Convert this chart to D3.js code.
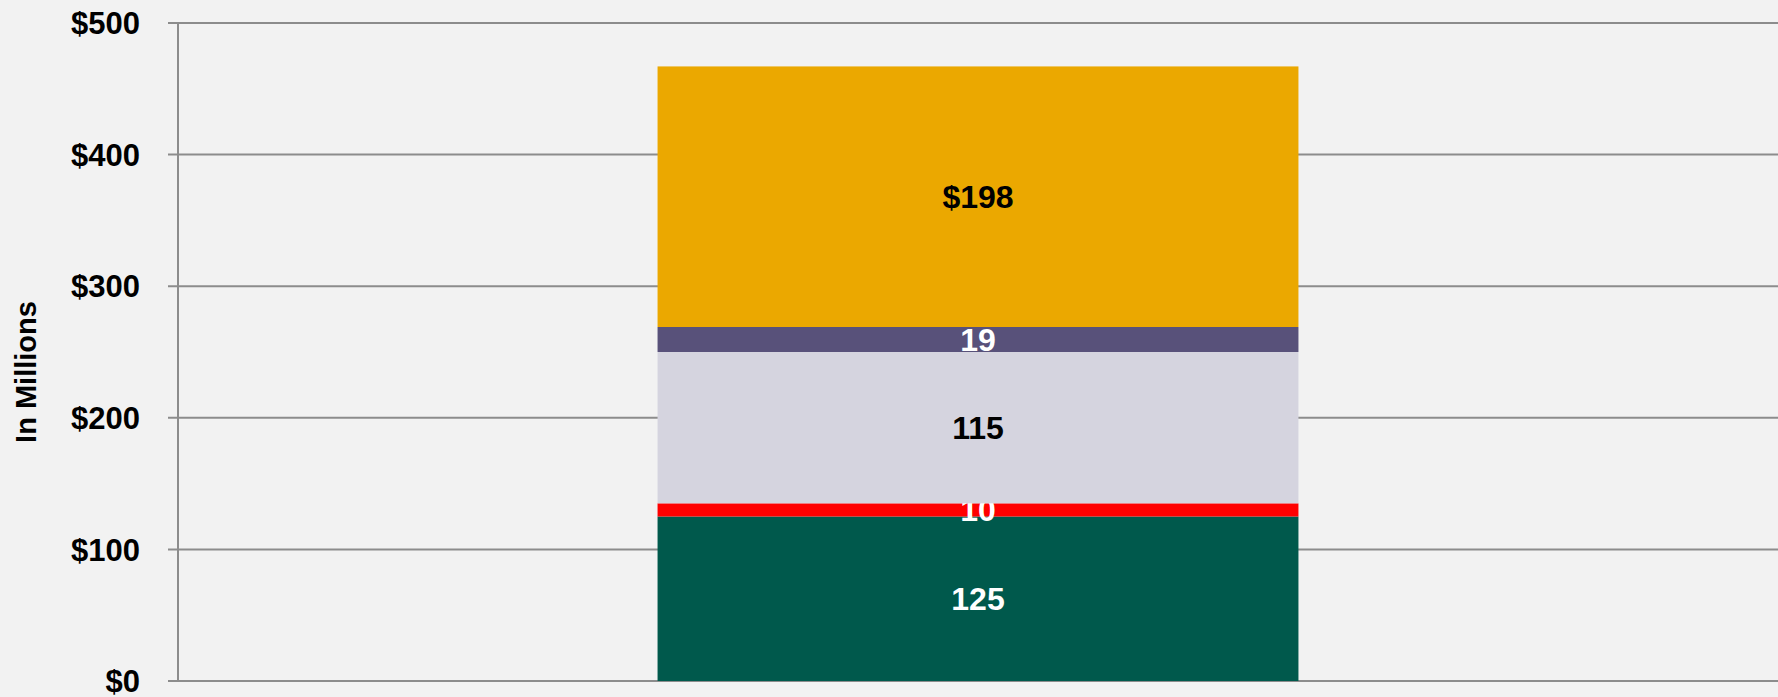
<!DOCTYPE html>
<html>
<head>
<meta charset="utf-8">
<script src="https://cdn.jsdelivr.net/npm/d3@7"></script>
<style>
  html, body { margin: 0; padding: 0; background: #f2f2f2; }
  svg { display: block; }
  text { font-family: "Liberation Sans", Arial, sans-serif; font-weight: bold; }
</style>
</head>
<body>
<div id="content"></div>
<script>
// Chart data.
var categories = ["Total"];
var seriesNames = ["A", "B", "C", "D", "E"];
var seriesValues = [125, 10, 115, 19, 198];
var seriesLabels = ["125", "10", "115", "19", "$198"];
var seriesColors = ["#00594c", "#ff0000", "#d5d4df", "#58517a", "#eba800"];
var labelColors = ["#ffffff", "#ffffff", "#000000", "#ffffff", "#000000"];
var yTicks = [0, 100, 200, 300, 400, 500];

// Main SVG container.
var W = 1778, H = 697;
var margin = {left : 178, right : 0, top : 23, bottom : 16};
var width = W - margin.left - margin.right;
var height = H - margin.top - margin.bottom;

var svg = d3.select('#content')
              .append('svg')
              .attr('width', W)
              .attr('height', H);

svg.append('rect').attr('width', W).attr('height', H).attr('fill', '#f2f2f2');

var g = svg.append('g').attr('transform', 'translate(' + margin.left + ',' +
                                              margin.top + ')');

// Scales.
var scaleY = d3.scaleLinear().domain([ 0, 500 ]).range([ height, 0 ]);
var scaleX = d3.scaleBand().domain(categories).range([ 0, width ]).padding(0.428);

// Gridlines (with small outward tick on the left).
g.selectAll('line.grid')
    .data(yTicks)
    .enter()
    .append('line')
    .attr('class', 'grid')
    .attr('x1', -10)
    .attr('x2', width)
    .attr('y1', function(d) { return scaleY(d); })
    .attr('y2', function(d) { return scaleY(d); })
    .attr('stroke', '#8c8c8c')
    .attr('stroke-width', 2);

// Y axis line.
g.append('line')
    .attr('x1', 0).attr('x2', 0)
    .attr('y1', scaleY(500)).attr('y2', scaleY(0))
    .attr('stroke', '#8c8c8c')
    .attr('stroke-width', 2);

// Tick labels.
g.selectAll('text.tick')
    .data(yTicks)
    .enter()
    .append('text')
    .attr('class', 'tick')
    .attr('x', -38)
    .attr('y', function(d) { return scaleY(d); })
    .attr('dy', '0.36em')
    .attr('text-anchor', 'end')
    .style('font-size', '31px')
    .text(function(d) { return '$' + d; });

// Y axis title.
svg.append('text')
    .attr('transform', 'translate(26,372) rotate(-90)')
    .attr('text-anchor', 'middle')
    .attr('dy', '0.36em')
    .style('font-size', '29px')
    .text('In Millions');

// Stacked segments.
var segments = [];
var cum = 0;
seriesValues.forEach(function(v, i) {
  segments.push({name : seriesNames[i], y0 : cum, y1 : cum + v, i : i});
  cum += v;
});

var bar = g.selectAll('g.seg')
              .data(segments)
              .enter()
              .append('g')
              .attr('class', 'seg');

bar.append('rect')
    .attr('x', scaleX(categories[0]))
    .attr('width', scaleX.bandwidth())
    .attr('y', function(d) { return scaleY(d.y1); })
    .attr('height', function(d) { return scaleY(d.y0) - scaleY(d.y1); })
    .style('fill', function(d) { return seriesColors[d.i]; });

bar.append('text')
    .attr('x', scaleX(categories[0]) + scaleX.bandwidth() / 2)
    .attr('y', function(d) { return (scaleY(d.y0) + scaleY(d.y1)) / 2; })
    .attr('dy', '0.36em')
    .attr('text-anchor', 'middle')
    .style('font-size', '32px')
    .style('fill', function(d) { return labelColors[d.i]; })
    .text(function(d) { return seriesLabels[d.i]; });
</script>
</body>
</html>
